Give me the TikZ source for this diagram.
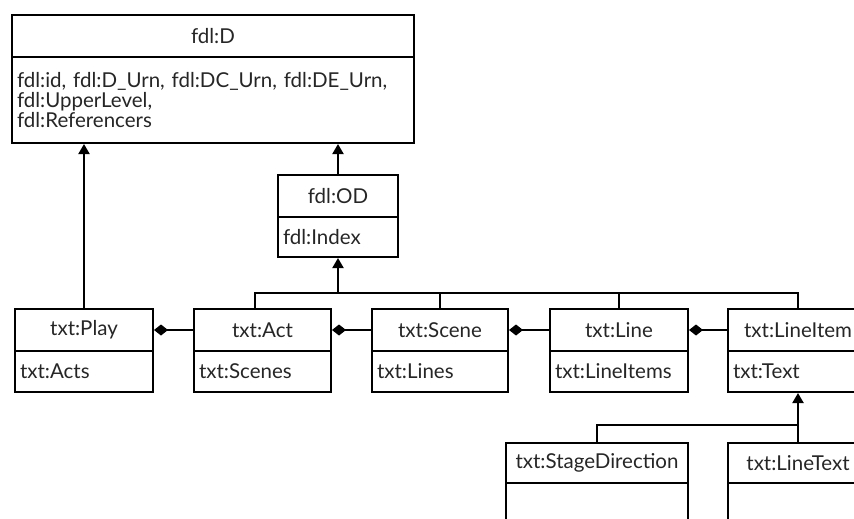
\documentclass[tikz,border=0pt]{standalone}
\usepackage{fontspec}
\setmainfont{Lato}
\usetikzlibrary{arrows.meta}
\begin{document}
\begin{tikzpicture}[x=1pt,y=-1pt,
  every node/.style={text=black!85, font=\fontsize{20.5}{20}\selectfont},
  hdr/.style={draw=black, line width=2pt, inner sep=0pt, anchor=north west, minimum height=42pt},
  body/.style={draw=black, line width=2pt, inner xsep=5pt, inner ysep=0pt, anchor=north west, align=left},
  conn/.style={draw=black, line width=2pt},
  gen/.style={conn, -{Triangle[width=11pt,length=10pt]}},
  comp/.style={conn, -{Diamond[width=11pt,length=14pt]}}]
\useasboundingbox (0,0) rectangle (854,519);
\clip (0,0) rectangle (854,519);
% fdl:D
\node[hdr, minimum width=402pt] (Dh) at (11,14) {fdl:D};
\node[body, minimum width=402pt, minimum height=86pt, text width=392pt] (Db) at (11,56)
  {fdl:id, fdl:D\_Urn, fdl:DC\_Urn, fdl:DE\_Urn,\\ fdl:UpperLevel,\\ fdl:Referencers};
% fdl:OD
\node[hdr, minimum width=120pt] (ODh) at (277,174) {fdl:OD};
\node[body, minimum width=120pt, minimum height=40pt, text width=110pt] (ODb) at (277,216) {fdl:Index};
% row
\node[hdr, minimum width=138pt] (Ph) at (14,308) {txt:Play};
\node[body, minimum width=138pt, minimum height=41pt, text width=128pt] (Pb) at (14,350) {txt:Acts};
\node[hdr, minimum width=137pt] (Ah) at (193,308) {txt:Act};
\node[body, minimum width=137pt, minimum height=41pt, text width=127pt] (Ab) at (193,350) {txt:Scenes};
\node[hdr, minimum width=136pt] (Sh) at (371,308) {txt:Scene};
\node[body, minimum width=136pt, minimum height=41pt, text width=126pt] (Sb) at (371,350) {txt:Lines};
\node[hdr, minimum width=138pt] (Lh) at (549,308) {txt:Line};
\node[body, minimum width=138pt, minimum height=41pt, text width=128pt] (Lb) at (549,350) {txt:LineItems};
\node[hdr, minimum width=140pt] (LIh) at (727,308) {txt:LineItem};
\node[body, minimum width=140pt, minimum height=41pt, text width=130pt] (LIb) at (727,350) {txt:Text};
% bottom
\node[hdr, minimum width=182pt, minimum height=40pt] (SDh) at (505,442) {txt:StageDirection};
\node[body, minimum width=182pt, minimum height=80pt, text width=172pt] (SDb) at (505,482) {};
\node[hdr, minimum width=140pt, minimum height=40pt] (LTh) at (727,442) {txt:LineText};
\node[body, minimum width=140pt, minimum height=80pt, text width=130pt] (LTb) at (727,482) {};
% generalisation
\draw[gen] (Ph.north) -- (Ph.north |- Db.south);
\draw[gen] (ODh.north) -- (ODh.north |- Db.south);
\coordinate (bus) at (337,293);
\draw[gen] (ODb.south |- bus) -- (ODb.south);
\draw[conn] ([xshift=-7.5pt]Ah.north) |- (LIh.north |- bus) -- (LIh.north);
\draw[conn] (Sh.north) -- (Sh.north |- bus);
\draw[conn] (Lh.north) -- (Lh.north |- bus);
\coordinate (bus2) at (797,425);
\draw[gen] (LIb.south |- bus2) -- (LIb.south);
\draw[conn] (SDh.north) |- (LTh.north |- bus2) -- (LTh.north);
% composition
\draw[comp] (Ah.west) -- (Ph.east);
\draw[comp] (Sh.west) -- (Ah.east);
\draw[comp] (Lh.west) -- (Sh.east);
\draw[comp] (LIh.west) -- (Lh.east);
\end{tikzpicture}
\end{document}
